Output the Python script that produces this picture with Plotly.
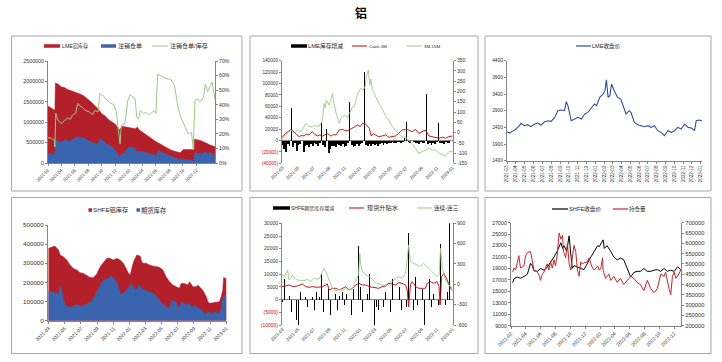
import pandas as pd
import plotly.graph_objects as go

W, H = 722, 362
FONT = "Liberation Sans, Arial, Noto Sans CJK SC, sans-serif"
AXC = "#868686"
TXT = "#303030"
RED_AREA = "#B3202A"
BLUE_AREA = "#3A64AD"
GREEN = "#9CCB86"
RED_LINE = "#C00000"
NAVY = "#2F4F95"
BORDER = "#A6A6A6"

# ---------------- data ----------------
# Panel 1: LME stocks, cancelled warrants, ratio
P1_LME_STOCK = [("2021-02-01",1400000),("2021-02-16",1340000),("2021-03-04",1290000),("2021-03-06",1960000),
    ("2021-03-20",1930000),("2021-04-01",1870000),("2021-04-16",1850000),("2021-05-01",1800000),("2021-05-16",1780000),
    ("2021-06-01",1740000),("2021-06-16",1710000),("2021-07-01",1680000),("2021-07-16",1630000),("2021-08-01",1560000),
    ("2021-08-16",1490000),("2021-09-01",1400000),("2021-09-16",1320000),("2021-10-01",1210000),("2021-10-16",1150000),
    ("2021-11-01",1060000),("2021-11-16",1000000),("2021-12-01",950000),("2021-12-12",870000),("2021-12-20",820000),
    ("2022-01-01",900000),("2022-01-16",880000),("2022-02-01",860000),("2022-02-16",850000),("2022-03-01",840000),
    ("2022-03-10",880000),("2022-03-20",800000),("2022-04-01",760000),("2022-04-16",710000),("2022-05-01",650000),
    ("2022-05-16",590000),("2022-06-01",530000),("2022-06-16",480000),("2022-07-01",430000),("2022-07-16",390000),
    ("2022-08-01",340000),("2022-08-16",300000),("2022-09-01",270000),("2022-09-20",250000),("2022-10-01",330000),
    ("2022-10-16",335000),("2022-11-01",330000),("2022-11-20",325000),("2022-11-22",590000),("2022-12-01",570000),
    ("2022-12-15",560000),("2023-01-01",520000),("2023-01-15",480000),("2023-02-01",440000),("2023-02-22",400000)]
P1_CANCELLED = [("2021-02-01",240000),("2021-03-04",220000),("2021-03-06",560000),("2021-04-01",510000),
    ("2021-04-20",570000),("2021-05-10",540000),("2021-05-25",590000),("2021-06-15",640000),("2021-07-07",620000),
    ("2021-07-25",570000),("2021-08-10",520000),("2021-08-30",480000),("2021-09-14",470000),("2021-09-22",600000),
    ("2021-10-09",540000),("2021-10-24",460000),("2021-11-10",420000),("2021-11-24",360000),("2021-12-10",240000),
    ("2021-12-20",120000),("2021-12-28",220000),("2022-01-13",250000),("2022-01-26",380000),("2022-02-12",390000),
    ("2022-02-28",360000),("2022-03-07",270000),("2022-03-23",290000),("2022-04-16",250000),("2022-05-09",220000),
    ("2022-05-24",200000),("2022-06-05",180000),("2022-06-09",300000),("2022-07-02",250000),("2022-07-17",220000),
    ("2022-08-09",180000),("2022-08-24",150000),("2022-09-09",100000),("2022-10-01",90000),("2022-10-24",65000),
    ("2022-11-08",65000),("2022-11-18",35000),("2022-11-24",250000),("2022-12-16",235000),("2023-01-01",240000),
    ("2023-01-09",270000),("2023-01-20",240000),("2023-02-09",250000),("2023-02-22",170000)]
P1_RATIO = [("2021-02-01",17),("2021-02-10",17.5),("2021-02-20",16.5),("2021-03-01",16),("2021-03-04",11),
    ("2021-03-08",34),("2021-03-16",30),("2021-04-01",27),("2021-04-16",29),("2021-05-01",31),("2021-05-12",30),
    ("2021-05-23",33),("2021-06-05",34),("2021-06-15",41),("2021-06-25",39),("2021-07-07",38),("2021-07-20",36),
    ("2021-08-07",35),("2021-08-20",33),("2021-08-30",36),("2021-09-14",35),("2021-09-22",47.6),("2021-10-09",46),
    ("2021-10-24",43),("2021-11-10",41),("2021-11-24",40),("2021-12-05",35),("2021-12-10",27),("2021-12-22",13),
    ("2021-12-28",26),("2022-01-13",27),("2022-01-26",43),("2022-02-05",47),("2022-02-12",46),("2022-02-28",44),
    ("2022-03-07",31.6),("2022-03-15",30),("2022-03-23",36),("2022-04-05",34),("2022-04-16",35),("2022-04-28",33),
    ("2022-05-09",34),("2022-05-24",36),("2022-06-01",34),("2022-06-09",61),("2022-06-20",60),("2022-07-02",59),
    ("2022-07-17",58),("2022-08-01",57.5),("2022-08-09",57),("2022-08-24",53),("2022-09-09",38),("2022-09-20",32),
    ("2022-10-01",28),("2022-10-12",24),("2022-10-24",20),("2022-11-08",21),("2022-11-16",10),("2022-11-24",43),
    ("2022-12-05",44),("2022-12-16",42),("2023-01-01",45),("2023-01-09",54),("2023-01-20",49),("2023-02-01",53),
    ("2023-02-09",55.6),("2023-02-14",51),("2023-02-22",44)]
P1_TICKS = ["2021-02-01","2021-04-01","2021-06-01","2021-08-01","2021-10-01","2021-12-01",
            "2022-02-01","2022-04-01","2022-06-01","2022-08-01","2022-10-01","2022-12-01"]

# Panel 2: LME stock change (weekly), Cash-3M, 3M-15M
P2_WEEK_START = "2021-03-01"
P2_STOCK_CHANGE = [-8000,-15000,-20000,-6000,-10000,57000,-12000,-5000,-18000,-8000,
    -6000,23000,-21000,-10000,-8000,-12000,-7000,-9000,-5000,-6000,
    -10000,-4000,31000,-8000,-12000,20000,-22000,-15000,-10000,-9000,
    -12000,-6000,-8000,-10000,-7000,-12000,-9000,-5000,68000,-8000,
    -12000,-10000,-6000,-9000,-7000,-5000,120000,-8000,-10000,-7000,
    -9000,-6000,-8000,-7000,-10000,-6000,-5000,-8000,-4000,-6000,
    -5000,-4000,-3000,-5000,-4000,-3000,-2000,-4000,-3000,5000,
    32000,-3000,-4000,10000,-3000,-5000,-4000,-6000,-3000,-5000,
    -4000,82000,-6000,-5000,-8000,-4000,-6000,-3000,30000,-5000,
    -4000,-6000,-3000,-5000,-4000,38000]
P2_CASH_3M = [("2021-02-27",-23),("2021-03-07",-12),("2021-03-14",-4),("2021-03-24",5),("2021-04-03",15),
    ("2021-04-10",8),("2021-04-16",4),("2021-04-25",-10),("2021-05-06",-20),("2021-05-15",-14),("2021-05-25",-17),
    ("2021-06-04",-8),("2021-06-14",-12),("2021-06-27",4),("2021-07-05",-8),("2021-07-16",-17),("2021-07-26",-12),
    ("2021-08-06",-17),("2021-08-15",-10),("2021-08-25",-4),("2021-09-08",-17),("2021-09-18",-10),("2021-09-28",-12),
    ("2021-10-11",12),("2021-10-24",15),("2021-11-06",8),("2021-11-19",12),("2021-12-02",20),("2021-12-12",28),
    ("2021-12-22",36),("2022-01-02",30),("2022-01-11",45),("2022-01-24",40),("2022-02-07",20),("2022-02-14",-17),
    ("2022-02-22",-5),("2022-03-03",-12),("2022-03-16",-20),("2022-03-29",-17),("2022-04-12",-12),("2022-04-25",-23),
    ("2022-05-08",-20),("2022-05-21",-17),("2022-06-03",-4),("2022-06-16",12),("2022-06-30",15),("2022-07-12",12),
    ("2022-07-25",4),("2022-08-08",15),("2022-08-21",-4),("2022-09-04",4),("2022-09-16",12),("2022-09-30",-17),
    ("2022-10-13",-20),("2022-10-26",-23),("2022-11-09",-28),("2022-11-22",-23),("2022-12-04",-28),("2022-12-18",-20),
    ("2023-01-01",-17)]
P2_3M_15M = [("2021-02-27",-36),("2021-03-06",-20),("2021-03-20",-4),("2021-04-03",12),("2021-04-16",-4),
    ("2021-04-29",12),("2021-05-12",4),("2021-05-22",20),("2021-06-01",45),("2021-06-14",28),("2021-06-27",28),
    ("2021-07-10",36),("2021-07-23",28),("2021-08-06",60),("2021-08-12",142),("2021-08-17",120),("2021-08-21",158),
    ("2021-09-01",134),("2021-09-08",160),("2021-09-14",190),("2021-09-20",142),("2021-09-29",93),("2021-10-11",45),
    ("2021-10-18",70),("2021-10-24",77),("2021-11-06",85),("2021-11-13",70),("2021-11-19",93),("2021-11-26",105),
    ("2021-12-02",126),("2021-12-08",126),("2021-12-15",150),("2021-12-22",190),("2022-01-04",215),("2022-01-13",207),
    ("2022-01-21",223),("2022-01-26",272),("2022-02-03",304),("2022-02-08",231),("2022-02-13",260),("2022-02-19",207),
    ("2022-02-25",195),("2022-03-03",175),("2022-03-10",160),("2022-03-16",150),("2022-03-22",130),("2022-03-29",118),
    ("2022-04-05",100),("2022-04-12",77),("2022-04-25",61),("2022-05-08",28),("2022-05-21",12),("2022-06-03",-4),
    ("2022-06-16",-20),("2022-06-30",-24),("2022-07-12",-36),("2022-07-25",-53),("2022-08-08",-77),("2022-08-21",-101),
    ("2022-09-04",-93),("2022-09-16",-85),("2022-09-30",-77),("2022-10-13",-85),("2022-10-26",-85),("2022-11-09",-101),
    ("2022-11-22",-110),("2022-12-04",-115),("2022-12-18",-93),("2023-01-01",-93)]
P2_TICKS = ["2021-03-01","2021-05-01","2021-07-01","2021-09-01","2021-11-01","2022-01-01",
            "2022-03-01","2022-05-01","2022-07-01","2022-09-01","2022-11-01","2023-01-01"]
P2_LEFT_TICKS = [-40000,-20000,0,20000,40000,60000,80000,100000,120000,140000]
P2_RIGHT_TICKS = [-150,-100,-50,0,50,100,150,200,250,300,350]

# Panel 3: LME close
P3_LME_CLOSE = [("2021-03-01",2270),("2021-03-09",2230),("2021-03-20",2280),("2021-04-01",2350),("2021-04-13",2450),
    ("2021-04-18",2520),("2021-04-30",2450),("2021-05-11",2480),("2021-05-23",2420),("2021-06-04",2500),
    ("2021-06-15",2530),("2021-06-27",2470),("2021-07-08",2560),("2021-07-20",2600),("2021-08-01",2580),
    ("2021-08-13",2700),("2021-08-24",2900),("2021-09-05",2920),("2021-09-16",2900),("2021-09-22",3170),
    ("2021-09-28",3050),("2021-10-04",2800),("2021-10-09",2600),("2021-10-21",2650),("2021-11-02",2700),
    ("2021-11-13",2650),("2021-11-25",2800),("2021-12-06",2850),("2021-12-18",3000),("2021-12-29",3100),
    ("2022-01-05",3050),("2022-01-16",3300),("2022-01-28",3400),("2022-02-03",3500),("2022-02-08",3830),
    ("2022-02-14",3300),("2022-02-20",3350),("2022-02-26",3700),("2022-03-07",3500),("2022-03-19",3300),
    ("2022-03-30",3250),("2022-04-11",2950),("2022-04-17",2800),("2022-04-28",2900),("2022-05-04",2850),
    ("2022-05-16",2550),("2022-05-27",2480),("2022-06-08",2450),("2022-06-20",2420),("2022-07-01",2450),
    ("2022-07-13",2400),("2022-07-24",2450),("2022-08-05",2300),("2022-08-16",2250),("2022-08-28",2150),
    ("2022-09-09",2300),("2022-09-21",2250),("2022-10-02",2300),("2022-10-13",2400),("2022-10-25",2350),
    ("2022-11-06",2500),("2022-11-18",2400),("2022-11-29",2380),("2022-12-10",2300),("2022-12-16",2600),
    ("2022-12-28",2620),("2023-01-05",2600)]
P3_TICKS = ["2021-03-01","2021-04-01","2021-05-01","2021-06-01","2021-07-01","2021-08-01","2021-09-01",
            "2021-10-01","2021-11-01","2021-12-01","2022-01-01","2022-02-01","2022-03-01","2022-04-01",
            "2022-05-01","2022-06-01","2022-07-01","2022-08-01","2022-09-01","2022-10-01","2022-11-01",
            "2022-12-01","2023-01-01"]

# Panel 4: SHFE stocks
P4_SHFE_STOCK = [("2021-03-01",378000),("2021-03-13",383000),("2021-03-25",390000),("2021-04-08",369000),
    ("2021-04-14",343000),("2021-04-26",334000),("2021-05-09",317000),("2021-05-21",291000),("2021-06-03",273000),
    ("2021-06-16",265000),("2021-06-28",251000),("2021-07-11",247000),("2021-07-23",239000),("2021-08-05",226000),
    ("2021-08-18",226000),("2021-08-30",244000),("2021-09-12",282000),("2021-09-25",308000),("2021-10-07",326000),
    ("2021-10-19",326000),("2021-11-01",317000),("2021-11-14",326000),("2021-11-26",317000),("2021-12-09",300000),
    ("2021-12-21",265000),("2021-12-27",250000),("2022-01-03",239000),("2022-01-09",273000),("2022-01-16",308000),
    ("2022-01-28",343000),("2022-02-10",338000),("2022-02-16",308000),("2022-02-22",300000),("2022-03-05",300000),
    ("2022-03-17",291000),("2022-03-30",286000),("2022-04-12",282000),("2022-04-24",279000),("2022-05-07",265000),
    ("2022-05-19",230000),("2022-06-01",204000),("2022-06-13",186000),("2022-06-26",178000),("2022-07-08",169000),
    ("2022-07-15",195000),("2022-07-27",195000),("2022-08-09",186000),("2022-08-16",204000),("2022-08-28",178000),
    ("2022-09-10",178000),("2022-09-16",186000),("2022-09-29",170000),("2022-10-04",160000),("2022-10-18",125000),
    ("2022-10-24",99000),("2022-10-31",91000),("2022-11-18",94000),("2022-12-06",99000),("2022-12-13",125000),
    ("2022-12-19",160000),("2022-12-22",226000),("2023-01-01",220000)]
P4_FUTURES_STOCK = [("2021-03-01",152000),("2021-03-13",152000),("2021-03-25",146000),("2021-04-08",143000),
    ("2021-04-16",178000),("2021-04-26",125000),("2021-05-02",82000),("2021-05-15",73000),("2021-05-27",70000),
    ("2021-06-09",82000),("2021-06-21",82000),("2021-07-03",73000),("2021-07-16",82000),("2021-07-28",91000),
    ("2021-08-09",99000),("2021-08-22",125000),("2021-09-03",160000),("2021-09-16",195000),("2021-09-28",216000),
    ("2021-10-10",221000),("2021-10-23",233000),("2021-11-04",221000),("2021-11-17",195000),("2021-11-26",143000),
    ("2021-12-06",139000),("2021-12-19",160000),("2022-01-01",178000),("2022-01-07",198000),("2022-01-14",178000),
    ("2022-01-26",160000),("2022-02-08",186000),("2022-02-20",164000),("2022-03-04",160000),("2022-03-17",152000),
    ("2022-03-29",143000),("2022-04-10",134000),("2022-04-23",108000),("2022-05-05",91000),("2022-05-17",73000),
    ("2022-05-30",64000),("2022-06-11",108000),("2022-06-24",99000),("2022-07-06",64000),("2022-07-18",99000),
    ("2022-07-31",82000),("2022-08-12",90000),("2022-08-25",73000),("2022-09-06",80000),("2022-09-19",64000),
    ("2022-10-01",56000),("2022-10-14",35000),("2022-10-26",47000),("2022-11-08",38000),("2022-11-20",45000),
    ("2022-12-02",38000),("2022-12-12",56000),("2022-12-17",108000),("2023-01-01",143000)]
P4_TICKS = P2_TICKS

# Panel 5: SHFE futures stock change (weekly), spot premium, 1st-3rd spread
P5_WEEK_START = "2021-03-01"
P5_STOCK_CHANGE = [-1000,8000,-2000,10000,1500,-5000,15000,5000,-8000,-10000,
    3000,-6000,-4000,1000,-3000,6000,-3000,1000,-4000,3000,
    -1500,1000,10000,-5000,1500,-2000,4000,-6000,2500,-3000,
    2000,-4000,1500,23000,3000,-2000,2000,3000,1500,-6000,
    4000,-9000,-10000,21000,5000,-5000,27000,-10000,2000,10000,
    -5000,3000,-10000,-3000,-4000,1500,-7000,-3000,3000,-2000,
    1500,-5000,8000,-8000,2000,-8000,5000,-4000,4000,-2000,
    -3000,26000,-2000,12000,-4000,9000,-2000,17000,-4000,4000,
    -10000,16000,-7000,8000,-3000,2000,8000,-1500,-2000,22000,
    -3000,8000,-2000,3000,30000,5000]
P5_SPOT_PREMIUM = [("2021-02-27",-34),("2021-03-14",-25),("2021-03-27",-10),("2021-04-10",-34),("2021-04-29",-25),
    ("2021-05-18",5),("2021-06-01",-34),("2021-06-14",-44),("2021-06-27",-34),("2021-07-16",-44),("2021-08-06",-34),
    ("2021-08-25",5),("2021-09-01",-84),("2021-09-14",-59),("2021-09-28",-59),("2021-10-11",-84),("2021-10-24",-59),
    ("2021-11-06",-34),("2021-11-19",-84),("2021-12-02",-59),("2021-12-15",-10),("2021-12-28",15),("2022-01-11",-10),
    ("2022-01-24",-10),("2022-02-07",-34),("2022-02-19",-44),("2022-03-03",-59),("2022-03-16",-59),("2022-03-29",-34),
    ("2022-04-12",-25),("2022-04-25",15),("2022-05-08",5),("2022-05-21",-10),("2022-06-03",25),("2022-06-16",15),
    ("2022-06-30",-10),("2022-07-06",-84),("2022-07-12",-330),("2022-07-19",-10),("2022-07-25",40),("2022-08-01",15),
    ("2022-08-08",-34),("2022-08-21",-59),("2022-09-04",-59),("2022-09-16",-59),("2022-09-23",15),("2022-10-06",40),
    ("2022-10-19",15),("2022-11-01",40),("2022-11-09",-34),("2022-11-13",-305),("2022-11-19",113),("2022-11-28",162),
    ("2022-12-11",64),("2022-12-24",-59),("2023-01-01",-84)]
P5_SPREAD_1_3 = [("2021-02-27",138),("2021-03-09",113),("2021-03-21",211),("2021-03-27",64),("2021-04-10",138),
    ("2021-04-16",89),("2021-04-29",64),("2021-05-12",64),("2021-05-25",54),("2021-06-08",74),("2021-06-21",40),
    ("2021-07-04",89),("2021-07-23",74),("2021-08-12",236),("2021-08-19",187),("2021-09-01",64),("2021-09-14",-59),
    ("2021-09-28",-93),("2021-10-11",-74),("2021-10-24",-93),("2021-11-06",-59),("2021-11-19",-84),("2021-12-02",-59),
    ("2021-12-15",64),("2021-12-26",138),("2021-12-31",457),("2022-01-04",285),("2022-01-11",187),("2022-01-24",138),
    ("2022-02-07",113),("2022-02-19",64),("2022-03-03",25),("2022-03-16",5),("2022-03-29",-10),("2022-04-12",-10),
    ("2022-04-25",25),("2022-05-08",40),("2022-05-21",89),("2022-06-03",113),("2022-06-16",89),("2022-06-30",162),
    ("2022-07-06",408),("2022-07-12",580),("2022-07-19",334),("2022-08-01",310),("2022-08-14",285),("2022-08-27",261),
    ("2022-09-09",310),("2022-09-23",261),("2022-10-06",211),("2022-10-19",162),("2022-11-01",113),("2022-11-09",138),
    ("2022-11-15",531),("2022-11-22",236),("2022-12-04",64),("2022-12-18",-10),("2023-01-01",-59)]
P5_TICKS = P2_TICKS
P5_LEFT_TICKS = [-10000,-5000,0,5000,10000,15000,20000,25000,30000]
P5_RIGHT_TICKS = [-600,-300,0,300,600,900]

# Panel 6: SHFE close and open interest
P6_SHFE_CLOSE = [("2021-02-24",16500),("2021-03-01",17200),("2021-03-14",17500),("2021-03-28",17300),
    ("2021-04-11",17600),("2021-04-25",18000),("2021-05-08",19900),("2021-05-15",19500),("2021-05-22",18600),
    ("2021-06-05",18500),("2021-06-18",19000),("2021-07-02",18700),("2021-07-15",19200),("2021-07-29",20000),
    ("2021-08-12",21000),("2021-08-25",22000),("2021-09-09",23500),("2021-09-16",22500),("2021-09-22",23000),
    ("2021-10-03",22000),("2021-10-13",24700),("2021-10-20",21500),("2021-10-26",19000),("2021-11-02",19500),
    ("2021-11-16",19200),("2021-11-30",19000),("2021-12-13",18800),("2021-12-27",20000),("2022-01-10",21000),
    ("2022-01-24",22000),("2022-02-07",23000),("2022-02-13",22800),("2022-02-22",23500),("2022-03-01",24000),
    ("2022-03-06",22500),("2022-03-17",23000),("2022-04-01",22000),("2022-04-14",21000),("2022-04-28",20500),
    ("2022-05-11",20800),("2022-05-25",20500),("2022-06-08",19000),("2022-06-22",17500),("2022-07-05",18300),
    ("2022-07-18",18500),("2022-08-01",18500),("2022-08-15",19000),("2022-08-29",18500),("2022-09-12",18500),
    ("2022-09-26",18700),("2022-10-09",18800),("2022-10-23",18500),("2022-11-06",19000),("2022-11-19",18500),
    ("2022-12-03",18700),("2022-12-17",18500),("2022-12-31",19300),("2023-01-13",18800)]
P6_OPEN_INTEREST = [("2021-02-24",460000),("2021-03-01",480000),("2021-03-08",470000),("2021-03-14",500000),
    ("2021-03-21",540000),("2021-03-28",480000),("2021-04-11",490000),("2021-04-18",540000),("2021-04-25",555000),
    ("2021-05-08",560000),("2021-05-15",520000),("2021-05-22",470000),("2021-06-05",460000),("2021-06-12",445000),
    ("2021-06-18",420000),("2021-06-25",450000),("2021-07-02",460000),("2021-07-15",500000),("2021-07-22",470000),
    ("2021-07-29",510000),("2021-08-05",480000),("2021-08-12",520000),("2021-08-18",490000),("2021-08-25",540000),
    ("2021-09-02",650000),("2021-09-09",620000),("2021-09-16",640000),("2021-09-20",560000),("2021-09-29",530000),
    ("2021-10-06",600000),("2021-10-13",500000),("2021-10-20",470000),("2021-10-26",530000),("2021-11-02",590000),
    ("2021-11-09",560000),("2021-11-16",470000),("2021-11-23",440000),("2021-11-30",510000),("2021-12-06",500000),
    ("2021-12-13",505000),("2021-12-27",510000),("2022-01-03",530000),("2022-01-10",500000),("2022-01-17",480000),
    ("2022-01-24",470000),("2022-02-07",490000),("2022-02-13",470000),("2022-02-20",480000),("2022-02-27",530000),
    ("2022-03-01",470000),("2022-03-11",430000),("2022-03-25",450000),("2022-04-01",420000),("2022-04-14",440000),
    ("2022-04-28",410000),("2022-05-11",430000),("2022-05-25",400000),("2022-06-08",420000),("2022-06-22",440000),
    ("2022-07-05",430000),("2022-07-18",410000),("2022-08-01",400000),("2022-08-15",370000),("2022-08-29",420000),
    ("2022-09-12",380000),("2022-09-26",360000),("2022-10-09",380000),("2022-10-23",450000),("2022-11-06",440000),
    ("2022-11-12",460000),("2022-11-19",410000),("2022-11-26",380000),("2022-12-03",350000),("2022-12-10",440000),
    ("2022-12-17",460000),("2022-12-24",430000),("2022-12-31",440000),("2023-01-13",470000)]
P6_TICKS = ["2021-02-17","2021-04-17","2021-06-17","2021-08-17","2021-10-17","2021-12-17",
            "2022-02-17","2022-04-17","2022-06-17","2022-08-17","2022-10-17","2022-12-17"]

# ---------------- helpers ----------------
def px(x):
    return x / W

def py(y):
    return 1 - y / H

def unzip(pairs):
    return [p[0] for p in pairs], [p[1] for p in pairs]

def neg_red(vals):
    out = []
    for v in vals:
        if v < 0:
            out.append('<span style="color:#E00000">(%d)</span>' % (-v))
        else:
            out.append(str(v))
    return out

fig = go.Figure()

def line(pairs, color, xa, ya, width=1.0):
    d, v = unzip(pairs)
    fig.add_trace(go.Scatter(x=d, y=v, mode="lines", line=dict(color=color, width=width),
                             xaxis=xa, yaxis=ya, showlegend=False, hoverinfo="skip"))

def area(pairs, color, xa, ya):
    d, v = unzip(pairs)
    fig.add_trace(go.Scatter(x=d, y=v, mode="lines", fill="tozeroy", fillcolor=color,
                             line=dict(color=color, width=0.5),
                             xaxis=xa, yaxis=ya, showlegend=False, hoverinfo="skip"))

def weekly_bars(start, vals, color, xa, ya, neg_days, pos_days):
    d = pd.date_range(start, periods=len(vals), freq="7D")
    widths = [(neg_days if v < 0 else pos_days) * 86400000 for v in vals]
    fig.add_trace(go.Bar(x=d, y=vals, marker=dict(color=color, line=dict(width=0)),
                         width=widths, xaxis=xa, yaxis=ya, showlegend=False, hoverinfo="skip"))

# Panel 1
area(P1_LME_STOCK, RED_AREA, "x", "y")
area(P1_CANCELLED, BLUE_AREA, "x", "y")
line(P1_RATIO, GREEN, "x", "y2", 1.0)
# Panel 2
weekly_bars(P2_WEEK_START, P2_STOCK_CHANGE, "#000000", "x2", "y3", 7, 3.5)
line(P2_CASH_3M, RED_LINE, "x2", "y4", 0.9)
line(P2_3M_15M, GREEN, "x2", "y4", 0.9)
# Panel 3
line(P3_LME_CLOSE, NAVY, "x3", "y5", 1.1)
# Panel 4
area(P4_SHFE_STOCK, RED_AREA, "x4", "y6")
area(P4_FUTURES_STOCK, BLUE_AREA, "x4", "y6")
# Panel 5
weekly_bars(P5_WEEK_START, P5_STOCK_CHANGE, "#000000", "x5", "y7", 2, 2.5)
line(P5_SPOT_PREMIUM, RED_LINE, "x5", "y8", 0.9)
line(P5_SPREAD_1_3, GREEN, "x5", "y8", 0.9)
# Panel 6
line(P6_SHFE_CLOSE, "#000000", "x6", "y9", 1.0)
line(P6_OPEN_INTEREST, "#C0272D", "x6", "y10", 1.0)

def xax(dom, anchor, rng, ticks, angle=-45, fmt="%Y-%m", showline=True, size=5):
    return dict(domain=dom, anchor=anchor, range=rng, type="date", tickvals=ticks, tickformat=fmt,
                tickangle=angle, showgrid=False, zeroline=False, showline=showline, linecolor=AXC,
                linewidth=1, ticks="outside" if showline else "", ticklen=2, tickcolor=AXC,
                tickfont=dict(size=size, color=TXT, family=FONT), automargin=False, fixedrange=True)

def yax(anchor, rng, tickvals, ticktext, dom=None, overlay=None, side="left", zeroline=False, size=5.5):
    d = dict(anchor=anchor, range=rng, tickvals=tickvals, ticktext=ticktext, side=side,
             showgrid=False, zeroline=zeroline, zerolinecolor=AXC, zerolinewidth=1,
             showline=True, linecolor=AXC, linewidth=1, ticks="outside", ticklen=2, tickcolor=AXC,
             tickfont=dict(size=size, color=TXT, family=FONT), automargin=False, fixedrange=True)
    if dom is not None:
        d["domain"] = dom
    if overlay is not None:
        d["overlaying"] = overlay
    return d

p1_left = [0, 500000, 1000000, 1500000, 2000000, 2500000]
p1_right = [0, 10, 20, 30, 40, 50, 60, 70]
p3_ticks = [1400, 1900, 2400, 2900, 3400, 3900, 4400]
p4_ticks = [0, 100000, 200000, 300000, 400000, 500000]
p6_left = [9000, 11000, 13000, 15000, 17000, 19000, 21000, 23000, 25000, 27000]
p6_right = [200000, 250000, 300000, 350000, 400000, 450000, 500000, 550000, 600000, 650000, 700000]

layout = dict(
    width=W, height=H, margin=dict(l=0, r=0, t=0, b=0),
    paper_bgcolor="white", plot_bgcolor="rgba(0,0,0,0)",
    showlegend=False, hovermode=False, bargap=0,
    font=dict(family=FONT, color=TXT),
    xaxis=xax([px(48), px(215)], "y", ["2021-02-01", "2023-02-22"], P1_TICKS, size=4.4),
    yaxis=yax("x", [0, 2500000], p1_left, [str(v) for v in p1_left], dom=[py(163), py(61)], size=5.3),
    yaxis2=yax("x", [0, 70], p1_right, ["%d%%" % v for v in p1_right], overlay="y", side="right", size=5.2),
    xaxis2=xax([px(282), px(453)], "y3", ["2021-02-27", "2023-01-03"], P2_TICKS, showline=False, size=4.5),
    yaxis3=yax("x2", [-40000, 140000], P2_LEFT_TICKS, neg_red(P2_LEFT_TICKS), dom=[py(163.3), py(60.7)], zeroline=True, size=4.7),
    yaxis4=yax("x2", [-150, 350], P2_RIGHT_TICKS, [str(v) for v in P2_RIGHT_TICKS], overlay="y3", side="right", size=5),
    xaxis3=xax([px(507), px(702)], "y5", ["2021-03-01", "2023-01-05"], P3_TICKS, angle=-90, size=4.6),
    yaxis5=yax("x3", [1400, 4400], p3_ticks, [str(v) for v in p3_ticks], dom=[py(160.7), py(60.7)], size=4.9),
    xaxis4=xax([px(48), px(227)], "y6", ["2021-02-27", "2023-01-04"], P4_TICKS, size=4.9),
    yaxis6=yax("x4", [0, 500000], p4_ticks, [str(v) for v in p4_ticks], dom=[py(320.7), py(225)], size=6.2),
    xaxis5=xax([px(282), px(453)], "y7", ["2021-02-27", "2023-01-03"], P5_TICKS, showline=False, size=4.5),
    yaxis7=yax("x5", [-10000, 30000], P5_LEFT_TICKS, neg_red(P5_LEFT_TICKS), dom=[py(325), py(223.3)], zeroline=True, size=5),
    yaxis8=yax("x5", [-600, 900], P5_RIGHT_TICKS, [str(v) for v in P5_RIGHT_TICKS], overlay="y7", side="right", size=5),
    xaxis6=xax([px(511), px(681)], "y9", ["2021-02-17", "2023-01-14"], P6_TICKS, size=5),
    yaxis9=yax("x6", [9000, 27000], p6_left, [str(v) for v in p6_left], dom=[py(325.7), py(222.7)], size=5.3),
    yaxis10=yax("x6", [200000, 700000], p6_right, [str(v) for v in p6_right], overlay="y9", side="right", size=5.8),
)
fig.update_layout(**layout)

shapes = []
annots = []
# panel frames
for (x0, y0, x1, y1) in [(11.5, 36, 242, 191), (250, 36, 478, 191), (485, 36, 711, 191),
                         (11.5, 197.5, 242, 353.5), (250, 197.5, 478, 353.5), (485, 197.5, 711, 353.5)]:
    shapes.append(dict(type="rect", xref="paper", yref="paper", x0=px(x0), x1=px(x1), y0=py(y1), y1=py(y0),
                       line=dict(color=BORDER, width=1), fillcolor="rgba(0,0,0,0)", layer="below"))

def leg_line(x0, x1, y, color, width):
    shapes.append(dict(type="line", xref="paper", yref="paper", x0=px(x0), x1=px(x1), y0=py(y), y1=py(y),
                       line=dict(color=color, width=width)))

def leg_sq(x0, y, s, color):
    shapes.append(dict(type="rect", xref="paper", yref="paper", x0=px(x0), x1=px(x0 + s), y0=py(y + s / 2),
                       y1=py(y - s / 2), line=dict(width=0), fillcolor=color))

def leg_text(x, y, text, size=6.0):
    annots.append(dict(xref="paper", yref="paper", x=px(x), y=py(y), text=text, showarrow=False,
                       xanchor="left", yanchor="middle", xshift=-1,
                       font=dict(size=size, color="#262626", family=FONT)))

# Panel 1 legend
leg_line(44, 60, 46, RED_AREA, 3.5); leg_text(61, 46, "LME铝库存", 5.2)
leg_line(101, 116, 46, BLUE_AREA, 3.5); leg_text(117, 46, "注销仓单", 6)
leg_line(152, 168, 46, GREEN, 1); leg_text(169, 46, "注销仓单/库存", 6)
# Panel 2 legend
leg_line(291, 307, 46, "#000000", 3.5); leg_text(307, 46, "LME库存增减", 5.8)
leg_line(352, 367, 46, RED_LINE, 1); leg_text(368, 46, "Cash-3M", 4.4)
leg_line(407, 422, 46, GREEN, 1); leg_text(423, 46, "3M-15M", 4.4)
# Panel 3 legend
leg_line(576, 591, 46, NAVY, 1.2); leg_text(591, 46, "LME收盘价", 5.6)
# Panel 4 legend
leg_sq(88.5, 210, 3.5, RED_AREA); leg_text(92, 210, "SHFE铝库存", 6.2)
leg_sq(136.5, 210, 3.5, BLUE_AREA); leg_text(140, 210, "期货库存", 6.3)
# Panel 5 legend
leg_line(273, 290, 208, "#000000", 3.5); leg_text(289.5, 208, "SHFE期货库存增减", 5)
leg_line(349, 364, 208, RED_LINE, 1); leg_text(366, 208, "现货升贴水", 6.2)
leg_line(417, 432, 208, GREEN, 1); leg_text(433, 208, "连续-连三", 5.6)
# Panel 6 legend
leg_line(552, 568, 209, "#000000", 1.2); leg_text(568, 209, "SHFE收盘价", 5.7)
leg_line(613, 628, 209, "#C0272D", 1.2); leg_text(628, 209, "持仓量", 5.5)

# Title
annots.append(dict(xref="paper", yref="paper", x=0.5, y=py(12), text="<b>铝</b>", showarrow=False,
                   xanchor="center", yanchor="middle", font=dict(size=12, color="#000000", family="Noto Sans CJK SC")))

fig.update_layout(shapes=shapes, annotations=annots)
fig.write_html("out.html", config={"displayModeBar": False, "staticPlot": True},
               post_script="document.body.style.margin='0px';document.body.style.padding='0px';document.documentElement.style.overflow='hidden';")
